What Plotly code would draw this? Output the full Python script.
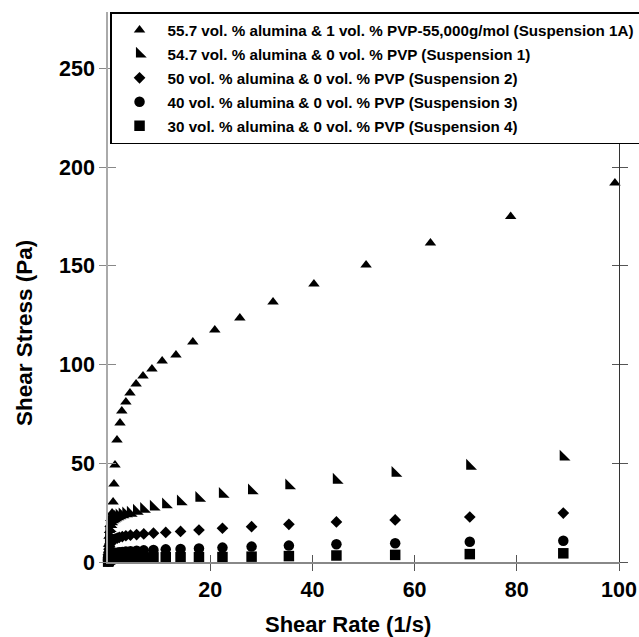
import plotly.graph_objects as go

# ---------------- data ----------------
names = [
    "55.7 vol. % alumina & 1 vol. % PVP-55,000g/mol (Suspension 1A)",
    "54.7 vol. % alumina & 0 vol. % PVP (Suspension 1)",
    "50 vol. % alumina & 0 vol. % PVP (Suspension 2)",
    "40 vol. % alumina & 0 vol. % PVP (Suspension 3)",
    "30 vol. % alumina & 0 vol. % PVP (Suspension 4)",
]

x_1a = [0.05, 0.1, 0.2, 0.3, 0.4, 0.55, 0.8, 1.0, 1.17, 1.37, 1.76, 2.35, 2.7, 3.5, 4.3,
        5.5, 6.85, 8.6, 10.6, 13.3, 16.6, 20.9, 25.8, 32.3, 40.3, 50.5, 63.1, 78.8, 99.2]
y_1a = [5, 9, 13, 16, 19, 22, 24.8, 30.4, 39.5, 49.1, 61.8, 70.4, 76.5, 81.1, 85.6,
        90.2, 94.2, 97.8, 101.8, 104.9, 111.4, 117.5, 123.6, 131.7, 140.8, 150.5, 161.6, 175, 192]

x_s = [0.03, 0.06, 0.1, 0.15, 0.2, 0.3, 0.45, 0.6, 0.8, 1.1, 1.4, 1.8, 2.2, 2.8, 3.5,
       4.4, 5.6, 7.0, 8.9, 11.3, 14.2, 17.8, 22.4, 28.1, 35.4, 44.7, 56.2, 70.8, 89.1]
y_1 = [3, 6, 9, 12, 14.5, 17, 19, 20.5, 21.5, 22, 22.5, 23, 23.5, 24, 24.5,
       24.8, 25.8, 26.8, 27.9, 29.0, 30.6, 32.3, 34.4, 36.1, 38.7, 41.5, 45, 48.6, 53.2]
y_2 = [1, 2, 3.5, 5, 6.5, 8, 9.3, 10.2, 10.8, 11.3, 11.7, 12.1, 12.5, 12.9, 13.3,
       13.6, 13.9, 14.2, 14.6, 15.0, 15.5, 16.2, 17.1, 17.9, 19.1, 20.3, 21.3, 22.8, 24.8]
y_3 = [0.3, 0.6, 1.0, 1.5, 2.0, 2.6, 3.1, 3.5, 3.9, 4.2, 4.5, 4.7, 4.9, 5.1, 5.3,
       5.5, 5.7, 5.9, 6.1, 6.4, 6.6, 6.9, 7.3, 7.8, 8.3, 9.0, 9.5, 10.3, 10.8]
y_4 = [0.2, 0.4, 0.6, 0.8, 1.0, 1.2, 1.4, 1.6, 1.7, 1.8, 1.9, 2.0, 2.05, 2.1, 2.15,
       2.2, 2.25, 2.3, 2.35, 2.4, 2.4, 2.45, 2.5, 2.7, 3.0, 3.3, 3.6, 4.0, 4.4]

x_ticks = [20, 40, 60, 80, 100]
y_ticks = [0, 50, 100, 150, 200, 250]

# ---------------- figure ----------------
FONT = "Liberation Sans"
fig = go.Figure()

series = [
    (x_1a, y_1a, "triangle-up", 10),
    (x_s, y_1, "triangle-sw", 12),
    (x_s, y_2, "diamond", 9),
    (x_s, y_3, "circle", 10.5),
    (x_s, y_4, "square", 10.5),
]
for i, (xs, ys, sym, sz) in enumerate(series):
    fig.add_trace(go.Scatter(
        x=xs, y=ys, mode="markers", name=names[i], legendgroup=f"g{i}",
        marker=dict(symbol=sym, size=sz, color="black", line=dict(width=0)),
        cliponaxis=False,
    ))

W, H = 639, 637
L, R, T, B = 108, W - 619, 12, H - 562

tickfont = dict(family=FONT, size=21.5, color="black", weight="bold")
fig.update_layout(
    width=W, height=H,
    margin=dict(l=L, r=R, t=T, b=B, autoexpand=False),
    paper_bgcolor="white", plot_bgcolor="white",
    showlegend=True,
    legend=dict(
        x=0.004, y=1, xanchor="left", yanchor="top",
        bgcolor="white", bordercolor="black", borderwidth=1.5,
        font=dict(family=FONT, size=15.2, color="black", weight="bold"),
        itemwidth=46, tracegroupgap=1.2, traceorder="grouped",
    ),
    xaxis=dict(
        range=[0, 100], showgrid=False, zeroline=False,
        showline=True, linecolor="#888888", linewidth=1.5,
        ticks="outside", ticklen=7, tickcolor="#555555", tickwidth=1,
        tickvals=x_ticks, tickfont=tickfont, tickangle=0,
    ),
    xaxis2=dict(
        range=[0, 100], overlaying="x", anchor="y", side="bottom",
        showgrid=False, zeroline=False, showline=False,
        ticks="inside", ticklen=7, tickcolor="#555555", tickwidth=1,
        tickvals=x_ticks, showticklabels=False,
    ),
    yaxis=dict(
        range=[0, 278.6], showgrid=False, zeroline=False,
        showline=True, linecolor="#aaaaaa", linewidth=1.5,
        ticks="outside", ticklen=7, tickcolor="#888888", tickwidth=1,
        tickvals=y_ticks, tickfont=tickfont,
    ),
    yaxis2=dict(
        range=[0, 278.6], overlaying="y", anchor="x", side="left",
        showgrid=False, zeroline=False, showline=False,
        ticks="inside", ticklen=8, tickcolor="#888888", tickwidth=1,
        tickvals=y_ticks, showticklabels=False,
    ),
    yaxis3=dict(
        range=[0, 278.6], overlaying="y", anchor="x", side="right",
        showgrid=False, zeroline=False, showline=True, linecolor="#333333", linewidth=1,
        ticks="outside", ticklen=8, tickcolor="#555555", tickwidth=1,
        tickvals=y_ticks, showticklabels=False,
    ),
    yaxis4=dict(
        range=[0, 278.6], overlaying="y", anchor="x", side="right",
        showgrid=False, zeroline=False, showline=False,
        ticks="inside", ticklen=7, tickcolor="#555555", tickwidth=1,
        tickvals=y_ticks, showticklabels=False,
    ),
)

# invisible traces to activate overlay axes
for xa, ya in [("x2", "y"), ("x", "y2"), ("x", "y3"), ("x", "y4")]:
    fig.add_trace(go.Scatter(x=[None], y=[None], xaxis=xa, yaxis=ya,
                             showlegend=False, hoverinfo="skip"))

fig.add_annotation(
    text="Shear Rate (1/s)", xref="paper", yref="paper",
    x=(348 - L) / (619 - L), y=(562 - 624) / (562 - T),
    xanchor="center", yanchor="middle", showarrow=False,
    font=dict(family=FONT, size=22, color="black", weight="bold"),
)
fig.add_annotation(
    text="Shear Stress (Pa)", xref="paper", yref="paper",
    x=(24 - L) / (619 - L), y=(562 - 333) / (562 - T),
    xanchor="center", yanchor="middle", showarrow=False, textangle=-90,
    font=dict(family=FONT, size=22.5, color="black", weight="bold"),
)

fig.write_html("out.html")
